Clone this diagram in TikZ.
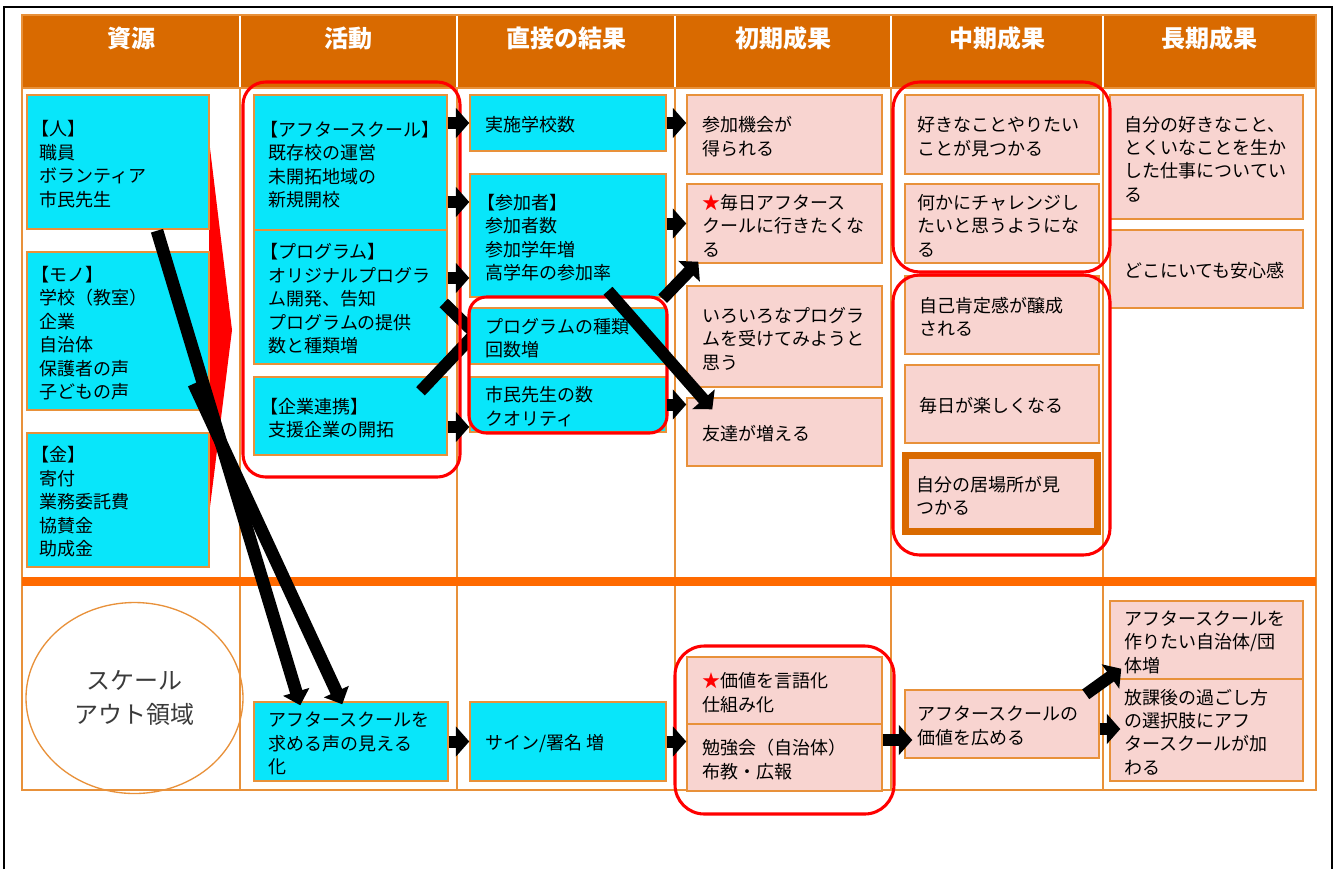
\documentclass[tikz,border=0pt]{standalone}
\usepackage{fontspec}
\setmainfont{Noto Sans CJK JP}
\usetikzlibrary{arrows.meta,shapes.geometric,calc}
\definecolor{hdr}{HTML}{D96A00}
\definecolor{cyanc}{HTML}{08E6FA}
\definecolor{pinkc}{HTML}{F8D4D0}
\definecolor{bord}{HTML}{E8913A}
\definecolor{sepc}{HTML}{FF6A00}
\definecolor{redc}{HTML}{FF0000}
\definecolor{grayt}{HTML}{3A3A3A}
\newcommand\lbk{\kern-0.45em【}
% #1 name, #2 style, #3 x1, #4 y1, #5 x2, #6 y2, #7 left margin, #8 text
\newcommand\cellbox[8]{%
  \node[#2, minimum width={(#5-#3)*0.75pt}, minimum height={(#6-#4)*0.75pt}] (#1) at ({(#3+#5)/2},{(#4+#6)/2}) {};
  \node[txt] (#1t) at ($(#1.west)+(#7,2)$) {#8};}
\begin{document}
\begin{tikzpicture}[x=0.75pt,y=-0.75pt,
  base/.style={inner sep=0pt, line width=1.1pt, draw=bord},
  cbox/.style={base, fill=cyanc},
  pbox/.style={base, fill=pinkc},
  ibox/.style={base, fill=pinkc, draw=hdr, line width=5.25pt},
  txt/.style={inner sep=0pt, anchor=west, align=left, font=\fontsize{13.5pt}{17.6pt}\selectfont},
  hd/.style={text=white, font=\bfseries\fontsize{18pt}{20pt}\selectfont},
  tl/.style={draw=bord, line width=1.1pt},
  grp/.style={draw=redc, line width=2.3pt},
  blk/.style={line width=9pt, -{Triangle[width=22pt,length=10pt]}},
  lng/.style={line width=9.5pt, -{Triangle[width=20pt,length=10.5pt]}}
]
\useasboundingbox (0,0) rectangle (1334,869);
% outer frame
\draw[line width=1.5pt] (4,869) -- (4,7) -- (1332,7) -- (1332,869);
% header band
\fill[hdr] (22,15) rectangle (1316,88);
\foreach \xx in {240,457,675,891,1103} \draw[white, line width=1.2pt] (\xx,15) -- (\xx,88);
% table lines
\draw[tl] (22,15) rectangle (1316,790);
\draw[tl] (22,88) -- (1316,88);
\foreach \xx in {240,457,675,891,1103} \draw[tl] (\xx,88) -- (\xx,790);
\draw[sepc, line width=6.5pt] (22,581.5) -- (1316,581.5);
% header texts
\node[hd] (h1) at (131,38) {資源};
\node[hd] (h2) at (348.5,38) {活動};
\node[hd] (h3) at (566,38) {直接の結果};
\node[hd] (h4) at (783,38) {初期成果};
\node[hd] (h5) at (997,38) {中期成果};
\node[hd] (h6) at (1209.5,38) {長期成果};
% red chevron
\fill[redc] (209,140) -- (232,330) -- (209,515) -- cycle;
% resources
\cellbox{resHito}{cbox}{27}{95}{209}{229}{13}{\lbk 人】\\職員\\ボランティア\\市民先生}
\cellbox{resMono}{cbox}{27}{252}{209}{410}{13}{\lbk モノ】\\学校（教室）\\企業\\自治体\\保護者の声\\子どもの声}
\cellbox{resKane}{cbox}{27}{433}{209}{567}{13}{\lbk 金】\\寄付\\業務委託費\\協賛金\\助成金}
% activities
\cellbox{actAS}{cbox}{254}{95}{447}{230}{15}{\lbk アフタースクール】\\既存校の運営\\未開拓地域の\\新規開校}
\cellbox{actPG}{cbox}{254}{230}{447}{364}{15}{\lbk プログラム】\\オリジナルプログラ\\ム開発、告知\\プログラムの提供\\数と種類増}
\cellbox{actKG}{cbox}{254}{377}{447}{455}{15}{\lbk 企業連携】\\支援企業の開拓}
% arrows partly hidden behind the programme box
\coordinate (t1) at (486,344);
\coordinate (t2) at (486,322);
\draw[blk] ($(actPG.east)+(-4,6)$) -- (t1);
\draw[blk] ($(actKG.north)+(70,15)$) -- (t2);
% direct results
\cellbox{dirJ}{cbox}{470}{95}{666}{151}{16}{実施学校数}
\cellbox{dirSan}{cbox}{470}{174}{666}{297}{16}{\lbk 参加者】\\参加者数\\参加学年増\\高学年の参加率}
\cellbox{dirPG}{cbox}{470}{308}{666}{364}{16}{プログラムの種類\\回数増}
\cellbox{dirShi}{cbox}{470}{377}{666}{432}{16}{市民先生の数\\クオリティ}
% initial outcomes
\cellbox{iniSanka}{pbox}{687}{95}{882}{174}{16}{参加機会が\\得られる}
\cellbox{iniMai}{pbox}{687}{184}{882}{263}{16}{{\color{redc}★}毎日アフタース\\クールに行きたくな\\る}
\cellbox{iniIro}{pbox}{687}{286}{882}{387}{16}{いろいろなプログラ\\ムを受けてみようと\\思う}
\cellbox{iniTomo}{pbox}{687}{398}{882}{466}{16}{友達が増える}
% mid outcomes
\cellbox{midSuki}{pbox}{905}{95}{1099}{174}{13}{好きなことやりたい\\ことが見つかる}
\cellbox{midChal}{pbox}{905}{184}{1099}{263}{13}{何かにチャレンジし\\たいと思うようにな\\る}
\cellbox{midJiko}{pbox}{905}{276}{1099}{354}{15}{自己肯定感が醸成\\される}
\cellbox{midTano}{pbox}{905}{365}{1099}{443}{15}{毎日が楽しくなる}
\cellbox{midIba}{ibox}{905.5}{455.5}{1097.5}{531.5}{14.5}{自分の居場所が見\\つかる}
% long outcomes
\cellbox{longShigoto}{pbox}{1110}{95}{1303}{219}{15}{自分の好きなこと、\\とくいなことを生か\\した仕事についてい\\る}
\cellbox{longAnshin}{pbox}{1110}{230}{1303}{308}{15}{どこにいても安心感}
% bottom row
\node[ellipse, draw=bord, line width=1pt, minimum width=162.75pt, minimum height=143.25pt, align=center, text=grayt, font=\fontsize{18pt}{26pt}\selectfont] (scale) at (134.5,698) {スケール\\アウト領域};
\cellbox{actMie}{cbox}{254}{702}{448}{781}{15}{アフタースクールを\\求める声の見える\\化}
\cellbox{dirSign}{cbox}{470}{702}{666}{781}{16}{サイン/署名 増}
\cellbox{iniKachi}{pbox}{687}{657}{882}{724}{16}{{\color{redc}★}価値を言語化\\仕組み化}
\cellbox{iniBen}{pbox}{687}{724}{882}{791}{16}{勉強会（自治体）\\布教・広報}
\cellbox{midHiro}{pbox}{905}{690}{1099}{758}{13}{アフタースクールの\\価値を広める}
\cellbox{longTsuku}{pbox}{1110}{601}{1303}{679}{15}{アフタースクールを\\作りたい自治体/団\\体増}
\cellbox{longHoka}{pbox}{1110}{679}{1303}{781}{15}{放課後の過ごし方\\の選択肢にアフ\\タースクールが加\\わる}
% red group outlines
\draw[grp, rounded corners=17pt] (243,82) rectangle (460,477);
\draw[grp, rounded corners=13pt] (469,297) rectangle (667,433);
\draw[grp, rounded corners=20pt] (893,82) rectangle (1110,272);
\draw[grp, rounded corners=20pt] (893,275) rectangle (1110,555);
\draw[grp, rounded corners=22pt] (675,646) rectangle (894,814);
% black arrows
\draw[blk] (dirJ.west -| actAS.east) -- (dirJ.west);
\draw[blk] (actAS.east |- 0,202) -- (dirSan.west |- 0,202);
\draw[blk] (actPG.east |- 0,278) -- (dirSan.west |- 0,278);
\draw[blk] (actKG.east |- 0,427) -- (dirShi.west |- 0,427);
\draw[blk] (dirJ.east) -- (dirJ.east -| iniSanka.west);
\draw[blk] (iniMai.west -| dirSan.east) -- (iniMai.west);
\draw[blk] (dirShi.east) -- (dirShi.east -| iniTomo.west);
\draw[blk] ($(dirSan.south east)+(-4,1)$) -- ($(iniMai.south west)+(12,-2)$);
\draw[blk] ($(dirSan.south)+(40,-7)$) -- ($(iniTomo.north west)+(26,12)$);
\draw[blk] (actMie.east) -- (actMie.east -| dirSign.west);
\draw[blk] (dirSign.east) -- (dirSign.east -| iniBen.west);
\draw[blk] (iniBen.east |- 0,740) -- ($(midHiro.west |- 0,740)+(8,0)$);
\draw[blk] (midHiro.east |- 0,729) -- ($(longHoka.west |- 0,729)+(11,0)$);
\draw[blk] ($(midHiro.north east)+(-14,5)$) -- ($(longTsuku.south west)+(12,-11)$);
% long arrows from resources
\draw[lng] ($(resHito.south)+(39,1)$) -- ($(actMie.north west)+(47,4)$);
\draw[lng] ($(resMono.south east)+(-16,-27)$) -- ($(actMie.north west)+(89,3)$);
\end{tikzpicture}
\end{document}
